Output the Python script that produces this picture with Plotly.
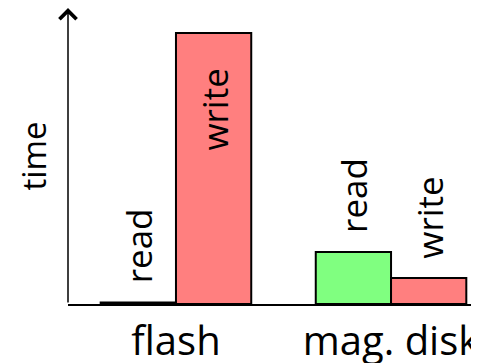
import plotly.graph_objects as go

categories = ["flash", "mag. disk"]
series_names = ["read", "write"]
read_values = [1.5, 52]
write_values = [271, 26]
colors = {"read": "#80FF80", "write": "#FF7F7F"}

bargap = 0.30
font_family = "Open Sans, DejaVu Sans, sans-serif"
label_size = 35

fig = go.Figure()
for name, vals in zip(series_names, [read_values, write_values]):
    fig.add_trace(go.Bar(
        x=categories, y=vals, name=name,
        marker=dict(color=colors[name], line=dict(color="black", width=2)),
    ))

offset = (1 - bargap) / 4
annotations = []
for i, cat in enumerate(categories):
    for j, (name, vals) in enumerate(zip(series_names, [read_values, write_values])):
        xpos = i + (-offset if j == 0 else offset)
        v = vals[i]
        if v > 200:
            annotations.append(dict(x=xpos, y=v, xref="x", yref="y", text=name,
                                    textangle=-90, showarrow=False, yanchor="top",
                                    yshift=-34, font=dict(size=label_size, color="black", family=font_family)))
        else:
            annotations.append(dict(x=xpos, y=v, xref="x", yref="y", text=name,
                                    textangle=-90, showarrow=False, yanchor="bottom",
                                    yshift=17, font=dict(size=label_size, color="black", family=font_family)))

# y axis arrow
annotations.append(dict(x=0, y=1, xref="x domain", yref="y domain", ax=0, ay=0,
                        axref="x domain", ayref="y domain", showarrow=True,
                        arrowhead=4, arrowsize=2.2, arrowwidth=1.5, arrowcolor="black", text=""))

fig.update_layout(
    width=471, height=355,
    margin=dict(l=60, r=0, t=0, b=59),
    paper_bgcolor="white", plot_bgcolor="white",
    barmode="group", bargap=bargap, bargroupgap=0,
    showlegend=False,
    font=dict(family=font_family, color="black"),
    annotations=annotations,
)
fig.update_xaxes(type="category", range=[-0.502, 1.409], showline=True, linecolor="black",
                 linewidth=1.5, ticks="", showgrid=False, zeroline=False, ticklabelstandoff=1,
                 automargin=False,
                 tickfont=dict(size=40, color="black", family=font_family))
fig.update_yaxes(range=[0, 296], showline=False, showticklabels=False, ticks="",
                 showgrid=False, zeroline=False, automargin=False,
                 title=dict(text="time", font=dict(size=33, color="black", family=font_family), standoff=10))

fig.write_html("out.html")
